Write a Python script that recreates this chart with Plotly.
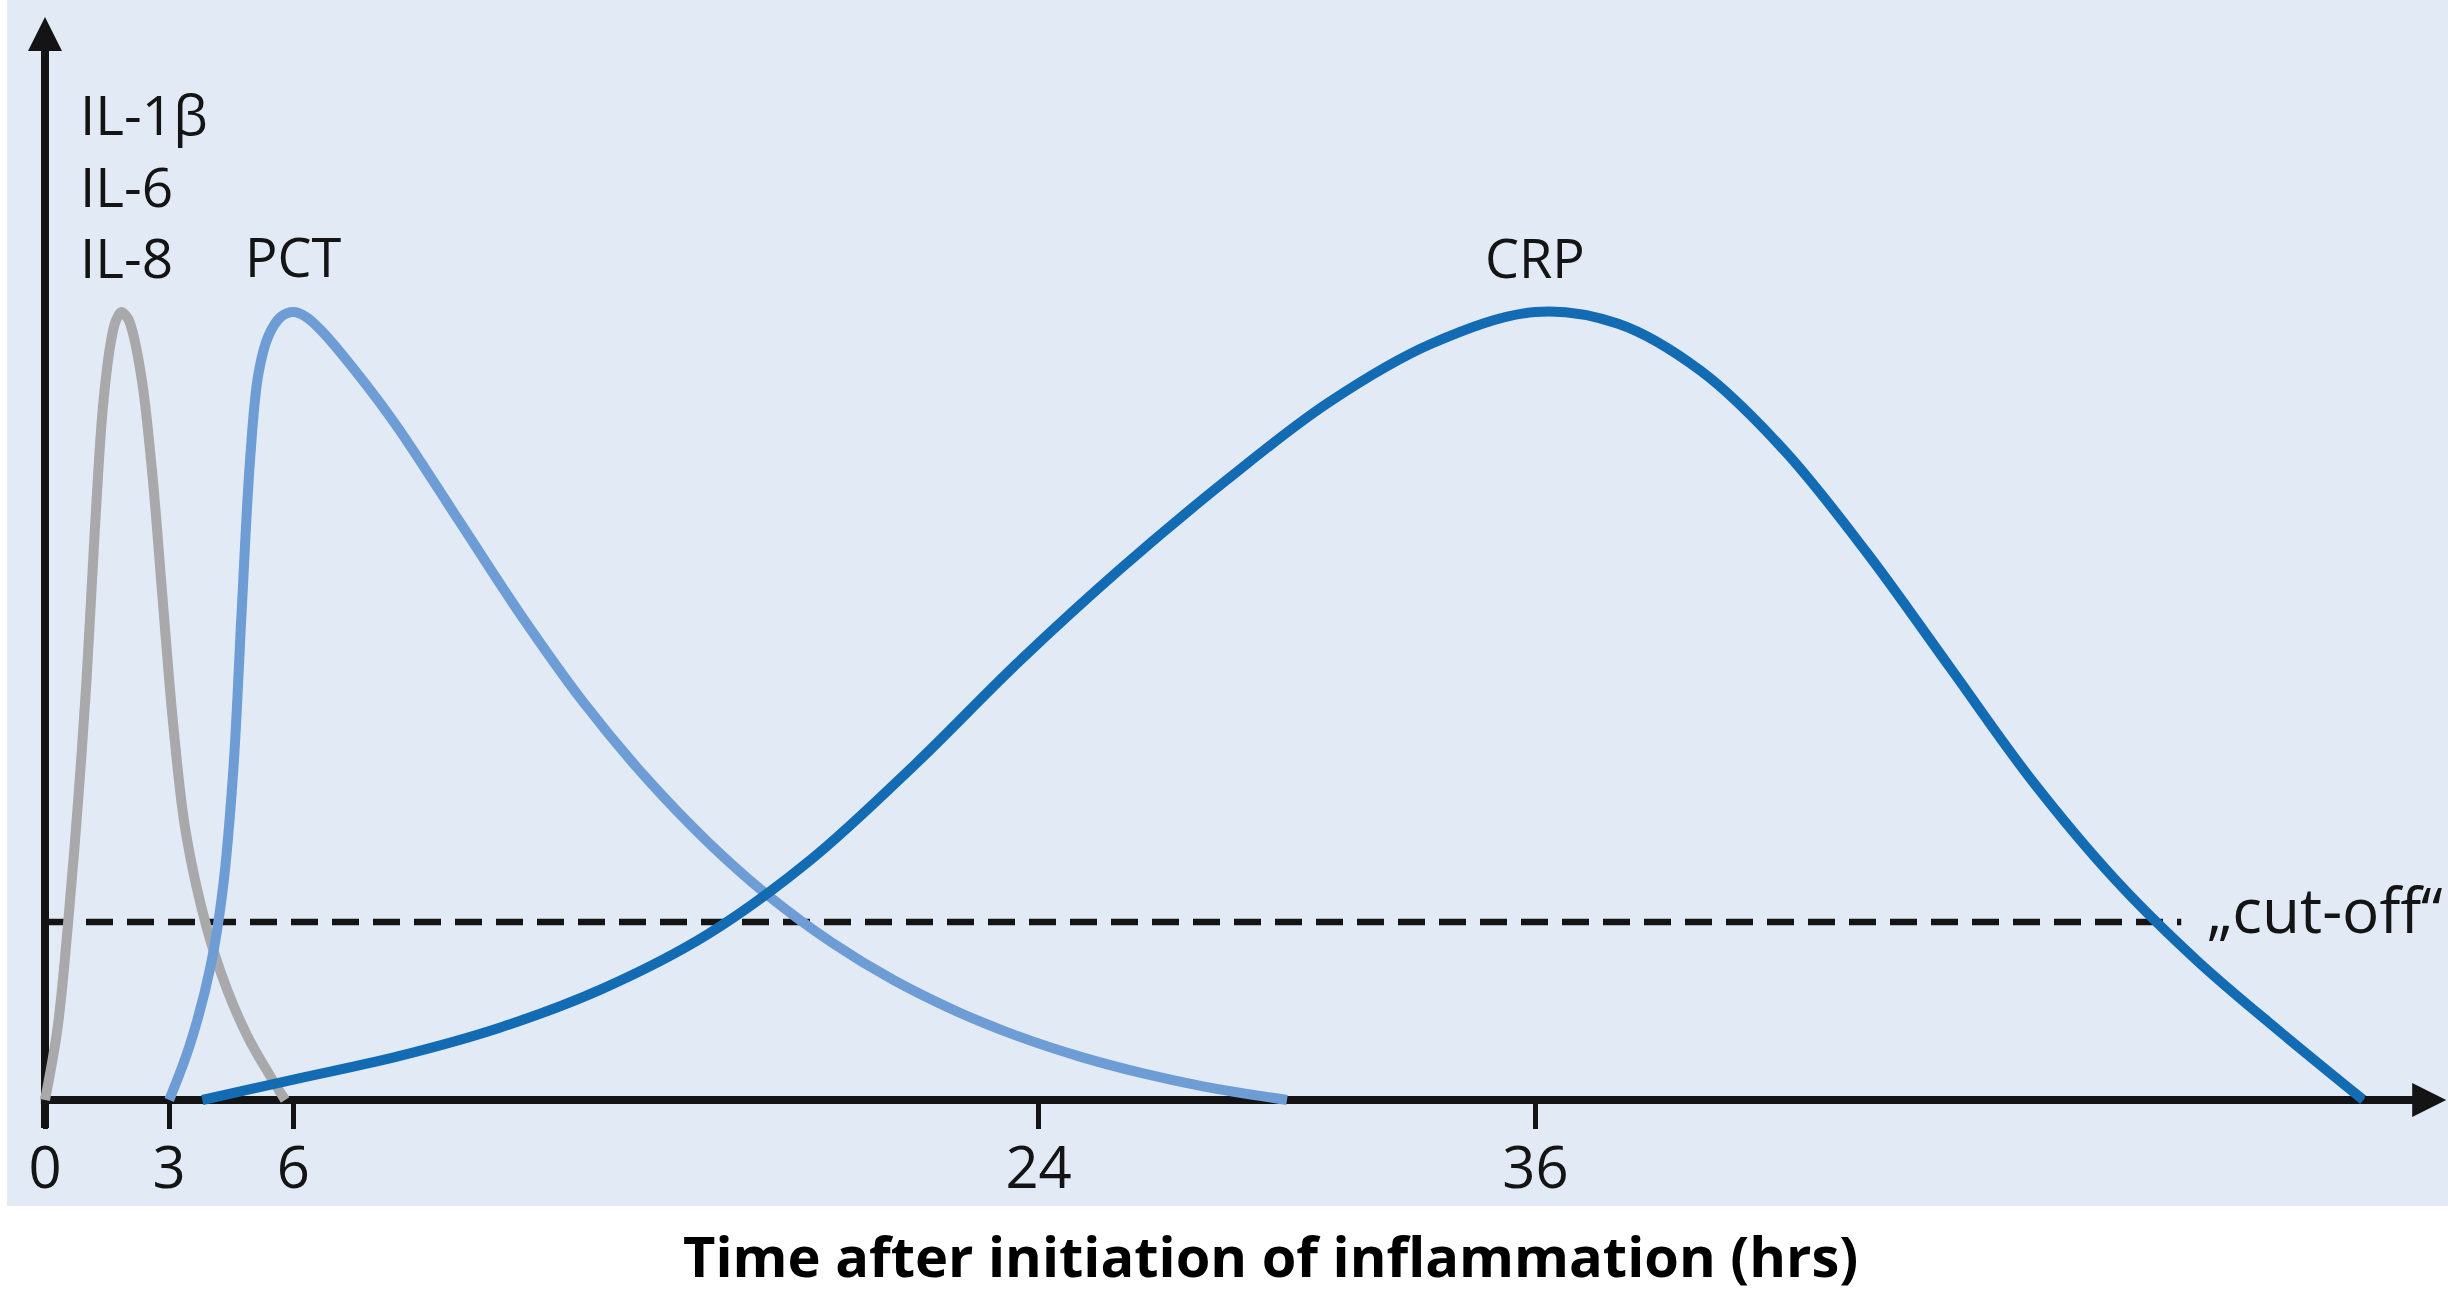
import plotly.graph_objects as go

# ---------------- data ----------------
il_hours = [0, 0.3, 0.55, 0.8, 1.0, 1.2, 1.4, 1.6, 1.72, 1.85, 2.0, 2.1, 2.35, 2.6, 2.85, 3.1, 3.4, 3.9, 4.4, 4.9, 5.4, 5.8]
il_level = [0, 9, 22, 38, 53, 72, 88, 96.5, 99, 100, 99.2, 97.8, 91, 79, 63, 47.5, 34, 22, 14, 8, 3.4, 0]

pct_hours = [3.0, 3.5, 4.0, 4.3, 4.55, 4.75, 4.95, 5.15, 5.4, 5.7, 6.0, 6.3, 6.7, 7.5, 8.5, 10, 11.5, 13, 14.5,
             16, 17.5, 19, 20.5, 22, 23.5, 25, 26.5, 28, 30]
pct_level = [0, 7, 17, 27, 42, 62, 81, 92, 97, 99.4, 100, 99.4, 97.5, 92.5, 85.5, 73.5, 61.5, 50.5, 41,
             32.8, 25.8, 20, 15.2, 11.3, 8.1, 5.5, 3.4, 1.7, 0]

crp_hours = [3.8, 6, 8.5, 11, 13.5, 16, 18.5, 21, 23.5, 26, 28.5, 31, 33.5, 36, 38, 40, 42, 44, 46, 48,
             50, 52, 54, 56]
crp_level = [0, 2.6, 5.5, 9.2, 14.2, 21.0, 30.5, 42.5, 55.5, 67.5, 78.5, 88.5, 96, 100, 98.5, 92.5, 82.5,
             69.5, 55, 40.5, 28, 17.6, 8.6, 0]

cutoff_level = 22.6
cutoff_span = [0, 51.6]

tick_vals = [0, 3, 6, 24, 36]
tick_text = ["0", "3", "6", "24", "36"]

x_title = "Time after initiation of inflammation (hrs)"

# ---------------- layout geometry ----------------
W, H = 2448, 1295
X0PX, PX_PER_H = 45, 41.4
Y0PX, PX_PER_V = 1100, 7.88
x_range = [-X0PX / PX_PER_H, (W - X0PX) / PX_PER_H]
y_range = [-(H - Y0PX) / PX_PER_V, Y0PX / PX_PER_V]

BG = "#E2EBF5"
GREY = "#A9A9AB"
PCT_C = "#6E9DD5"
CRP_C = "#126BB3"
INK = "#141414"
FONT = "Open Sans"
LW = 10

fig = go.Figure()

fig.add_trace(go.Scatter(x=cutoff_span, y=[cutoff_level] * 2, mode="lines",
                         line=dict(color=INK, width=6.5, dash="27px,14px"), hoverinfo="skip"))
fig.add_trace(go.Scatter(x=il_hours, y=il_level, mode="lines",
                         line=dict(color=GREY, width=LW, shape="spline", smoothing=1.0)))
fig.add_trace(go.Scatter(x=pct_hours, y=pct_level, mode="lines",
                         line=dict(color=PCT_C, width=LW, shape="spline", smoothing=1.0)))
fig.add_trace(go.Scatter(x=crp_hours, y=crp_level, mode="lines",
                         line=dict(color=CRP_C, width=LW, shape="spline", smoothing=1.0)))

shapes = [
    dict(type="rect", xref="paper", yref="paper", x0=7 / W, x1=1, y0=(H - 1206) / H, y1=1,
         fillcolor=BG, line=dict(width=0), layer="below"),
    dict(type="line", xref="x", yref="y", x0=-0.1, x1=57.3, y0=0, y1=0,
         line=dict(color=INK, width=8), layer="below"),
    dict(type="line", xref="x", yref="y", x0=0, x1=0, y0=-3.55, y1=134,
         line=dict(color=INK, width=8), layer="below"),
]

annotations = [
    # arrow heads
    dict(x=58.0, y=0, ax=56.0, ay=0, xref="x", yref="y", axref="x", ayref="y", text="",
         showarrow=True, arrowhead=2, arrowwidth=8, arrowsize=0.85, arrowcolor=INK),
    dict(x=0, y=(Y0PX - 17) / PX_PER_V, ax=0, ay=128, xref="x", yref="y", axref="x", ayref="y", text="",
         showarrow=True, arrowhead=2, arrowwidth=8, arrowsize=0.85, arrowcolor=INK),
]

TEXT_SHIFT = 3  # box middle sits this far below the cap middle


def label(text, xpx, ypx, size, anchor="left"):
    annotations.append(dict(
        x=(xpx - X0PX) / PX_PER_H, y=(Y0PX - (ypx - TEXT_SHIFT)) / PX_PER_V, xref="x", yref="y", text=text,
        showarrow=False, xanchor=anchor, yanchor="middle",
        font=dict(family=FONT, size=size, color=INK)))


label("IL-1β", 78, 116, 55)
label("IL-6", 78, 188, 55)
label("IL-8", 78, 259, 55)
label("PCT", 45 + 6 * PX_PER_H, 259, 54, anchor="center")
label("CRP", 45 + 36 * PX_PER_H, 260, 54, anchor="center")
label("„cut-off“", 2205, 912, 62)

annotations.append(dict(
    x=1270 / W, y=0.0, xref="paper", yref="paper", text=f"<b>{x_title}</b>",
    showarrow=False, xanchor="center", yanchor="bottom",
    font=dict(family=FONT, size=56, color="#000000")))

fig.update_layout(
    width=W, height=H, autosize=False,
    margin=dict(l=0, r=0, t=0, b=0, pad=0),
    paper_bgcolor="white", plot_bgcolor="rgba(0,0,0,0)",
    showlegend=False,
    shapes=shapes, annotations=annotations,
    xaxis=dict(range=x_range, anchor="free", position=(H - Y0PX) / H,
               tickmode="array", tickvals=tick_vals, ticktext=tick_text,
               ticks="outside", ticklen=28, tickwidth=5, tickcolor=INK,
               ticklabelstandoff=-11,
               showline=False, showgrid=False, zeroline=False,
               tickfont=dict(family=FONT, size=58, color=INK), fixedrange=True),
    yaxis=dict(range=y_range, visible=False, fixedrange=True),
)

fig.write_html("out.html", config={"displayModeBar": False},
               post_script="document.body.style.margin='0';document.body.style.overflow='hidden';")
